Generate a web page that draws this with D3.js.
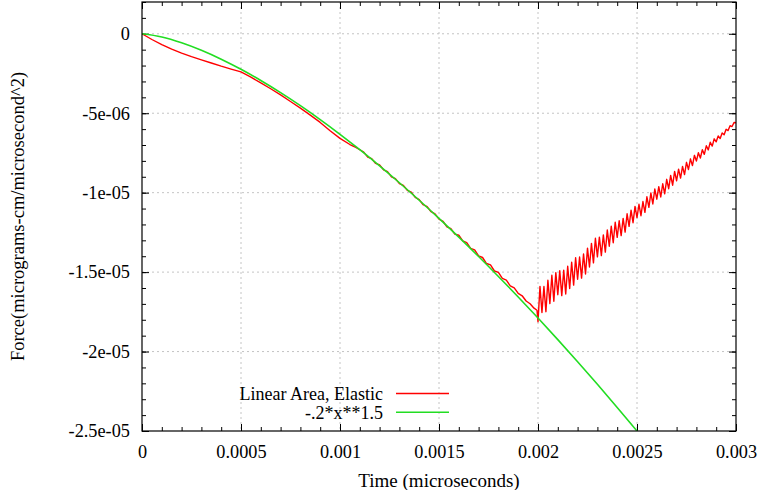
<!DOCTYPE html>
<html>
<head>
<meta charset="utf-8">
<script src="https://cdn.jsdelivr.net/npm/d3@7"></script>
<style>
    body { margin: 0; background: #fff; }
    svg { display: block; }
    svg text { font-family: "Liberation Serif", "DejaVu Serif", serif !important; }
</style>
</head>
<body>
<div class="force-chart"></div>
<script>
// axis ticks
const xTicks = [0, 0.0005, 0.001, 0.0015, 0.002, 0.0025, 0.003]
const xTickLabels = ["0", "0.0005", "0.001", "0.0015", "0.002", "0.0025", "0.003"]
const yTicks = [0, -5e-6, -1e-5, -1.5e-5, -2e-5, -2.5e-5]
const yTickLabels = ["0", "-5e-06", "-1e-05", "-1.5e-05", "-2e-05", "-2.5e-05"]

const seriesNames = ["Linear Area, Elastic", "-.2*x**1.5"]
const seriesColors = ["#ff0000", "#22dd22"]

// time in 1e-3 microseconds, force in 1e-6
const timeUnit = 1e-3
const forceUnit = 1e-6

const greenTime = [0, 0.1, 0.2, 0.3, 0.4, 0.5, 0.6, 0.7, 0.8, 0.9, 1.0, 1.1, 1.2, 1.3,
    1.4, 1.5, 1.6, 1.7, 1.8, 1.9, 2.0, 2.1, 2.2, 2.3, 2.4, 2.5]
const greenForce = [0, -0.200, -0.566, -1.039, -1.600, -2.236, -2.939, -3.704, -4.525, -5.400,
    -6.325, -7.297, -8.314, -9.375, -10.477, -11.619, -12.800, -14.018, -15.274, -16.564,
    -17.889, -19.247, -20.638, -22.061, -23.516, -25.000]

const redTime = [
    0, 0.05, 0.10, 0.15, 0.20, 0.25, 0.30, 0.35, 0.40, 0.45, 0.50, 0.55, 0.60, 0.65, 0.70,
    0.75, 0.80, 0.85, 0.90, 0.95, 1.00, 1.05, 1.08,
    1.10, 1.12, 1.14, 1.16, 1.18, 1.20, 1.22, 1.24, 1.26, 1.28, 1.30, 1.32, 1.34, 1.36, 1.38,
    1.40, 1.42, 1.44, 1.46, 1.48, 1.50, 1.52, 1.54, 1.56, 1.58, 1.60, 1.62, 1.64, 1.66, 1.68,
    1.70, 1.72, 1.74, 1.76, 1.78, 1.80, 1.82, 1.84, 1.86, 1.88, 1.90, 1.92, 1.94, 1.96, 1.98,
    1.995, 2.00,
    2.01, 2.02, 2.03, 2.04, 2.05, 2.06, 2.07, 2.08, 2.09, 2.10,
    2.11, 2.12, 2.13, 2.14, 2.15, 2.16, 2.17, 2.18, 2.19, 2.20,
    2.21, 2.22, 2.23, 2.24, 2.25, 2.26, 2.27, 2.28, 2.29, 2.30,
    2.31, 2.32, 2.33, 2.34, 2.35, 2.36, 2.37, 2.38, 2.39, 2.40,
    2.41, 2.42, 2.43, 2.44, 2.45, 2.46, 2.47, 2.48, 2.49, 2.50,
    2.51, 2.52, 2.53, 2.54, 2.55, 2.56, 2.57, 2.58, 2.59, 2.60,
    2.61, 2.62, 2.63, 2.64, 2.65, 2.66, 2.67, 2.68, 2.69, 2.70,
    2.71, 2.72, 2.73, 2.74, 2.75, 2.76, 2.77, 2.78, 2.79, 2.80,
    2.81, 2.82, 2.83, 2.84, 2.85, 2.86, 2.87, 2.88, 2.89, 2.90,
    2.91, 2.92, 2.93, 2.94, 2.95, 2.96, 2.97, 2.98, 2.99, 3.00]
const redForce = [
    0, -0.36, -0.68, -0.97, -1.22, -1.44, -1.64, -1.84, -2.04, -2.22, -2.40, -2.73, -3.09,
    -3.46, -3.85, -4.26, -4.68, -5.12, -5.58, -6.10, -6.58, -6.97, -7.15,
    -7.30, -7.45, -7.76, -7.86, -8.16, -8.25, -8.56, -8.68, -9.01, -9.12, -9.43, -9.54, -9.85,
    -9.97, -10.30, -10.44, -10.76, -10.88, -11.20, -11.33, -11.67, -11.80, -12.15, -12.26,
    -12.61, -12.68, -13.03, -13.14, -13.51, -13.60, -13.98, -14.08, -14.46, -14.55, -14.93,
    -15.02, -15.40, -15.51, -15.87, -15.99, -16.34, -16.49, -16.82, -16.99, -17.27,
    -17.40, -18.12,
    -15.90, -17.54, -15.91, -17.49, -15.51, -16.98, -15.20, -16.83, -15.03, -16.42,
    -14.91, -16.48, -14.88, -16.38, -14.63, -16.03, -14.38, -15.82, -14.10, -15.45,
    -14.05, -15.38, -13.86, -15.12, -13.49, -14.68, -13.19, -14.42, -12.87, -14.04,
    -12.80, -13.96, -12.66, -13.74, -12.35, -13.37, -12.11, -13.15, -11.86, -12.81,
    -11.77, -12.70, -11.62, -12.48, -11.33, -12.12, -11.10, -11.89, -10.86, -11.57,
    -10.73, -11.45, -10.56, -11.24, -10.26, -10.92, -10.02, -10.71, -9.77, -10.41,
    -9.62, -10.27, -9.44, -10.07, -9.16, -9.75, -8.91, -9.53, -8.66, -9.25,
    -8.52, -9.08, -8.35, -8.86, -8.09, -8.54, -7.87, -8.30, -7.65, -8.01,
    -7.49, -7.82, -7.30, -7.59, -7.05, -7.31, -6.83, -7.07, -6.61, -6.80,
    -6.43, -6.59, -6.24, -6.36, -6.01, -6.09, -5.79, -5.84, -5.58, -5.60]

let dimensions = {
    width: 762,
    height: 490,
    margin: { top: 2, right: 26, bottom: 59, left: 142 }
}
dimensions.boundedWidth = dimensions.width - dimensions.margin.left - dimensions.margin.right
dimensions.boundedHeight = dimensions.height - dimensions.margin.top - dimensions.margin.bottom

const wrapper = d3.select(".force-chart")
    .append("svg")
    .attr("width", dimensions.width)
    .attr("height", dimensions.height)

const bounds = wrapper.append("g")
    .attr("transform", `translate(${dimensions.margin.left},${dimensions.margin.top})`)

const xScale = d3.scaleLinear()
    .domain([0, 0.003])
    .range([0, dimensions.boundedWidth])

const yScale = d3.scaleLinear()
    .domain([-2.5e-5, 2e-6])
    .range([dimensions.boundedHeight, 0])

// grid
const gridStyle = g => g.attr("stroke", "#c4c4c4").attr("stroke-width", 1).attr("stroke-dasharray", "2,3")
bounds.append("g").call(gridStyle)
    .selectAll("line")
    .data(xTicks.filter(d => d > 0 && d < 0.003))
    .enter().append("line")
    .attr("x1", d => xScale(d)).attr("x2", d => xScale(d))
    .attr("y1", 0).attr("y2", dimensions.boundedHeight)
bounds.append("g").call(gridStyle)
    .selectAll("line")
    .data(yTicks.filter(d => d > -2.5e-5))
    .enter().append("line")
    .attr("x1", 0).attr("x2", dimensions.boundedWidth)
    .attr("y1", d => yScale(d)).attr("y2", d => yScale(d))

// minor ticks on all four sides
const xMinor = d3.range(0, 31).map(i => i * 0.0001)
const yMinor = d3.range(-25, 3).map(i => i * 1e-6)

function tickAxis(axis, transform)
{
    const g = bounds.append("g").attr("transform", transform).call(axis)
    g.select(".domain").remove()
    g.attr("font-family", null).attr("font-size", 18.3)
    g.selectAll("line").attr("stroke", "#000")
    g.selectAll("text").attr("fill", "#000")
    return g
}

tickAxis(d3.axisBottom(xScale).tickValues(xMinor).tickSizeInner(-4).tickSizeOuter(0).tickFormat(""),
    `translate(0,${dimensions.boundedHeight})`)
tickAxis(d3.axisTop(xScale).tickValues(xMinor).tickSizeInner(-4).tickSizeOuter(0).tickFormat(""), "")
tickAxis(d3.axisLeft(yScale).tickValues(yMinor).tickSizeInner(-4).tickSizeOuter(0).tickFormat(""), "")
tickAxis(d3.axisRight(yScale).tickValues(yMinor).tickSizeInner(-4).tickSizeOuter(0).tickFormat(""),
    `translate(${dimensions.boundedWidth},0)`)

// major ticks + labels
tickAxis(d3.axisBottom(xScale).tickValues(xTicks).tickSizeInner(-7).tickSizeOuter(0)
    .tickPadding(14).tickFormat((d, i) => xTickLabels[i]),
    `translate(0,${dimensions.boundedHeight})`)
tickAxis(d3.axisTop(xScale).tickValues(xTicks).tickSizeInner(-7).tickSizeOuter(0).tickFormat(""), "")
tickAxis(d3.axisLeft(yScale).tickValues(yTicks).tickSizeInner(-7).tickSizeOuter(0)
    .tickPadding(12).tickFormat((d, i) => yTickLabels[i]), "")
tickAxis(d3.axisRight(yScale).tickValues(yTicks).tickSizeInner(-7).tickSizeOuter(0).tickFormat(""),
    `translate(${dimensions.boundedWidth},0)`)

// clip
wrapper.append("defs").append("clipPath").attr("id", "plot-clip")
    .append("rect").attr("width", dimensions.boundedWidth).attr("height", dimensions.boundedHeight)

const lineGen = d3.line()
    .x(d => xScale(d[0] * timeUnit))
    .y(d => yScale(d[1] * forceUnit))

const redData = redTime.map((t, i) => [t, redForce[i]])
const greenData = greenTime.map((t, i) => [t, greenForce[i]])

const lines = bounds.append("g").attr("clip-path", "url(#plot-clip)")
lines.append("path")
    .datum(redData)
    .attr("d", lineGen)
    .attr("fill", "none")
    .attr("stroke", seriesColors[0])
    .attr("stroke-width", 1.4)
    .attr("stroke-linejoin", "round")
lines.append("path")
    .datum(greenData)
    .attr("d", lineGen.curve(d3.curveMonotoneX))
    .attr("fill", "none")
    .attr("stroke", seriesColors[1])
    .attr("stroke-width", 1.6)

// border
bounds.append("rect")
    .attr("width", dimensions.boundedWidth)
    .attr("height", dimensions.boundedHeight)
    .attr("fill", "none")
    .attr("stroke", "#000")
    .attr("stroke-width", 1.2)

// legend
const legend = bounds.append("g")
    .attr("transform", `translate(241,${393.5 - dimensions.margin.top})`)
const legendRows = legend.selectAll("g")
    .data(seriesNames)
    .enter().append("g")
    .attr("transform", (d, i) => `translate(0,${i * 18.8})`)
legendRows.append("text")
    .attr("x", 0)
    .attr("dy", "0.35em")
    .attr("text-anchor", "end")
    .attr("font-size", 18)
    .text(d => d)
legendRows.append("line")
    .attr("x1", 13).attr("x2", 66)
    .attr("stroke", (d, i) => seriesColors[i])
    .attr("stroke-width", 1.6)

// axis titles
wrapper.append("text")
    .attr("x", dimensions.margin.left + dimensions.boundedWidth / 2)
    .attr("y", 480)
    .attr("dy", "0.35em")
    .attr("text-anchor", "middle")
    .attr("font-size", 19)
    .text("Time (microseconds)")

wrapper.append("text")
    .attr("transform", `translate(18,${dimensions.margin.top + dimensions.boundedHeight / 2}) rotate(-90)`)
    .attr("dy", "0.35em")
    .attr("text-anchor", "middle")
    .attr("font-size", 18.5)
    .text("Force(micrograms-cm/microsecond^2)")
</script>
</body>
</html>
